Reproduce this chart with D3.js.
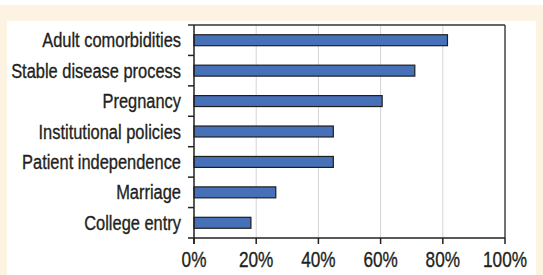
<!DOCTYPE html>
<html>
<head>
<meta charset="utf-8">
<script src="https://cdn.jsdelivr.net/npm/d3@7"></script>
<style>
  html, body { margin: 0; padding: 0; background: #fff; }
  svg { display: block; }
  text { font-family: "Liberation Sans", Arial, sans-serif; fill: #231f20; stroke: #231f20; stroke-width: 0.35px; }
</style>
</head>
<body>
<div id="chart"></div>
<script>
"use strict";

// data (percent)
var categories = ["Adult comorbidities", "Stable disease process", "Pregnancy",
                  "Institutional policies", "Patient independence", "Marriage", "College entry"];
var values = [81.5, 71, 60.5, 44.8, 44.8, 26.3, 18.3];
var tickValues = [0, 20, 40, 60, 80, 100];

var W = 543, H = 275;
var margin = { top: 25, right: 38, bottom: 37, left: 194 };
var width = 505 - 194, height = 238 - 25;

var svg = d3.select("#chart").append("svg")
  .attr("width", W).attr("height", H);

// panel background
svg.append("rect").attr("x", 0).attr("y", 5).attr("width", W).attr("height", H - 5).attr("fill", "#fdf3e3");
svg.append("rect").attr("x", 7).attr("y", 21).attr("width", 529).attr("height", H - 21).attr("fill", "#fff");

var g = svg.append("g").attr("transform", "translate(" + margin.left + "," + margin.top + ")");

var x = d3.scaleLinear().domain([0, 100]).range([0, width]);
var y = d3.scaleBand().domain(categories).range([0, height]).paddingInner(0.64).paddingOuter(0.32);
var yb = d3.scaleBand().domain(categories).range([0, height]);

// gridlines
g.selectAll(".grid").data(tickValues.slice(1, -1)).enter().append("line")
  .attr("x1", function(d) { return x(d); }).attr("x2", function(d) { return x(d); })
  .attr("y1", 0).attr("y2", height)
  .attr("stroke", "#d4d4d4").attr("stroke-width", 1);

// bars
g.selectAll(".bar").data(values).enter().append("rect")
  .attr("x", 0)
  .attr("y", function(d, i) { return y(categories[i]); })
  .attr("width", function(d) { return x(d); })
  .attr("height", y.bandwidth())
  .attr("fill", "#4670b8")
  .attr("stroke", "#1e1e1e").attr("stroke-width", 1.2);

// frame: top and right
g.append("line").attr("x1", -6).attr("x2", width).attr("y1", 0).attr("y2", 0)
  .attr("stroke", "#333").attr("stroke-width", 1.5);
g.append("line").attr("x1", width).attr("x2", width).attr("y1", 0).attr("y2", height)
  .attr("stroke", "#444").attr("stroke-width", 1.5);

// y axis: ticks at category boundaries
g.append("line").attr("x1", 0).attr("x2", 0).attr("y1", 0).attr("y2", height + 6)
  .attr("stroke", "#222").attr("stroke-width", 1.5);
g.selectAll(".ytick").data(categories.slice(1)).enter().append("line")
  .attr("x1", -6).attr("x2", 0)
  .attr("y1", function(d) { return yb(d); }).attr("y2", function(d) { return yb(d); })
  .attr("stroke", "#222").attr("stroke-width", 1.5);

// condensed look: squeeze the regular font horizontally
var ylab = g.selectAll(".ylab").data(categories).enter().append("text")
  .attr("class", "ylab")
  .attr("x", 0).attr("y", 0)
  .attr("text-anchor", "end")
  .style("font-size", "21px")
  .text(function(d) { return d; });
var natural = ylab.filter(function(d) { return d == "Stable disease process"; }).node().getComputedTextLength();
var sx = 170 / natural;
ylab.attr("transform", function(d) {
  return "translate(-13," + (yb(d) + yb.bandwidth() / 2 + 7) + ") scale(" + sx + ",1)";
});

// x axis
g.append("line").attr("x1", -6).attr("x2", width).attr("y1", height).attr("y2", height)
  .attr("stroke", "#222").attr("stroke-width", 1.5);
g.selectAll(".xtick").data(tickValues).enter().append("line")
  .attr("x1", function(d) { return x(d); }).attr("x2", function(d) { return x(d); })
  .attr("y1", height).attr("y2", height + 6)
  .attr("stroke", "#222").attr("stroke-width", 1.5);
var xlab = g.selectAll(".xlab").data(tickValues).enter().append("text")
  .attr("class", "xlab")
  .attr("text-anchor", "middle")
  .style("font-size", "22px")
  .text(function(d) { return d + "%"; });
var nat100 = xlab.filter(function(d) { return d == 100; }).node().getComputedTextLength();
var sx2 = 44 / nat100;
xlab.attr("transform", function(d) {
  return "translate(" + x(d) + "," + (height + 29) + ") scale(" + sx2 + ",1)";
});
</script>
</body>
</html>
